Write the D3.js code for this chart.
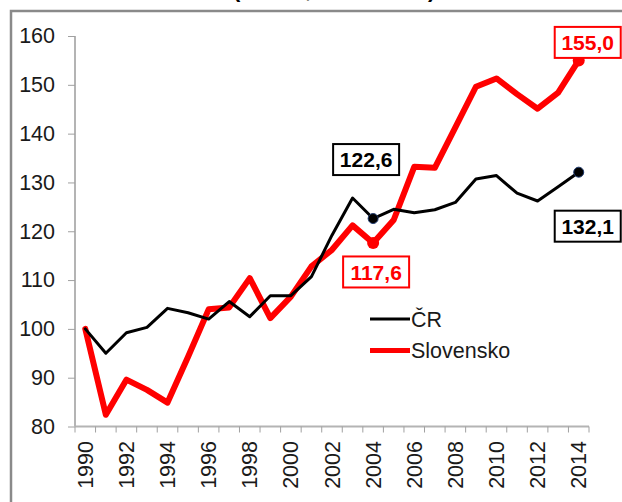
<!DOCTYPE html>
<html>
<head>
<meta charset="utf-8">
<script src="https://cdn.jsdelivr.net/npm/d3@7"></script>
<style>
  html, body { margin: 0; padding: 0; background: #fff; }
  svg { display: block; font-family: "Liberation Sans", Arial, sans-serif; }
</style>
</head>
<body>
<svg id="chart" width="622" height="502"></svg>
<script>
// Index of real development, 1990 = 100
const years = d3.range(1990, 2015);
const cr = [100.0, 95.0, 99.2, 100.3, 104.2, 103.3, 102.0, 105.6, 102.5, 106.8,
            106.8, 110.7, 119.2, 126.8, 122.6, 124.5, 123.8, 124.4, 125.9, 130.7,
            131.4, 127.8, 126.2, 129.1, 132.1];
const sk = [100.0, 82.4, 89.6, 87.5, 84.9, 94.3, 104.0, 104.4, 110.4, 102.2,
            106.6, 112.8, 116.2, 121.2, 117.6, 122.3, 133.2, 133.0, 141.3, 149.6,
            151.3, 148.1, 145.1, 148.4, 155.0];
const yTicks = [80, 90, 100, 110, 120, 130, 140, 150, 160];
const xLabelYears = years.filter(y => y % 2 === 0);
const seriesNames = ["ČR", "Slovensko"];
const titleText = "(reálně, 1990 = 100)";

const svg = d3.select("#chart");
const FONT = 21.5;
const BOLD_FONT = 21;

// outer frame of the chart object
svg.append("rect")
  .attr("x", 11).attr("y", 11)
  .attr("width", 700).attr("height", 600)
  .attr("fill", "none").attr("stroke", "#8a8a8a").attr("stroke-width", 2.5);

// title, sitting above the frame (only its lowest strokes fall inside the page)
svg.append("text")
  .attr("x", 233).attr("y", -3)
  .attr("font-size", 22).attr("font-weight", "bold").attr("fill", "#000")
  .text(titleText);

const x = d3.scaleBand().domain(years).range([75, 589]).padding(0);
const y = d3.scaleLinear().domain([80, 160]).range([426.5, 36]);
const cx = yr => x(yr) + x.bandwidth() / 2;

// y axis
const yAxis = svg.append("g")
  .attr("transform", "translate(75,0)")
  .call(d3.axisLeft(y).tickValues(yTicks).tickSize(7).tickPadding(13).tickFormat(d3.format("d")));
yAxis.select(".domain").attr("stroke", "#b4b4b4").attr("stroke-width", 2)
  .attr("d", `M0,${y(80)}V${y(160)}`);
yAxis.selectAll(".tick line").attr("stroke", "#a0a0a0").attr("stroke-width", 1);
yAxis.selectAll(".tick text")
  .attr("font-size", FONT).attr("font-family", "Liberation Sans, Arial, sans-serif")
  .attr("fill", "#1a1a1a");

// x axis: ticks between categories, labels every second year rotated
const xAxis = svg.append("g");
xAxis.append("line")
  .attr("x1", x.range()[0]).attr("x2", x.range()[1])
  .attr("y1", y(80)).attr("y2", y(80))
  .attr("stroke", "#b4b4b4").attr("stroke-width", 2);
const boundaries = years.map(yr => x(yr)).concat([x.range()[1]]);
xAxis.selectAll("line.tick")
  .data(boundaries).join("line").attr("class", "tick")
  .attr("x1", d => d).attr("x2", d => d)
  .attr("y1", y(80)).attr("y2", y(80) + 6)
  .attr("stroke", "#a0a0a0").attr("stroke-width", 1);
xAxis.selectAll("text")
  .data(xLabelYears).join("text")
  .attr("transform", d => `translate(${cx(d)},441) rotate(-90)`)
  .attr("text-anchor", "end").attr("dy", "0.35em")
  .attr("font-size", FONT).attr("fill", "#1a1a1a")
  .text(d => d);

// series lines
const line = d3.line().x((d, i) => cx(years[i])).y(d => y(d));
svg.append("path").datum(sk)
  .attr("d", line).attr("fill", "none")
  .attr("stroke", "#ff0000").attr("stroke-width", 6)
  .attr("stroke-linejoin", "round").attr("stroke-linecap", "round");
svg.append("path").datum(cr)
  .attr("d", line).attr("fill", "none")
  .attr("stroke", "#000").attr("stroke-width", 3)
  .attr("stroke-linejoin", "round").attr("stroke-linecap", "round");

// highlighted points
const idx2004 = years.indexOf(2004), idx2014 = years.indexOf(2014);
svg.selectAll("circle.cr")
  .data([idx2004, idx2014]).join("circle").attr("class", "cr")
  .attr("cx", i => cx(years[i])).attr("cy", i => y(cr[i])).attr("r", 5)
  .attr("fill", "#000").attr("stroke", "#1f3a6e").attr("stroke-width", 1);
svg.selectAll("circle.sk")
  .data([idx2004, idx2014]).join("circle").attr("class", "sk")
  .attr("cx", i => cx(years[i])).attr("cy", i => y(sk[i])).attr("r", 6)
  .attr("fill", "#ff0000");

// boxed value labels
const fmt = v => d3.format(".1f")(v).replace(".", ",");
const callouts = [
  { series: cr, i: idx2004, dx: -7, dy: -59, color: "#000" },
  { series: cr, i: idx2014, dx: 9, dy: 54, color: "#000" },
  { series: sk, i: idx2004, dx: 3, dy: 29, color: "#ff0000" },
  { series: sk, i: idx2014, dx: 9, dy: -18, color: "#ff0000" }
];
const boxW = 66, boxH = 31;
const cg = svg.selectAll("g.callout").data(callouts).join("g").attr("class", "callout")
  .attr("transform", d => `translate(${cx(years[d.i]) + d.dx},${y(d.series[d.i]) + d.dy})`);
cg.append("rect")
  .attr("x", -boxW / 2).attr("y", -boxH / 2).attr("width", boxW).attr("height", boxH)
  .attr("fill", "#fff").attr("stroke", d => d.color).attr("stroke-width", 2);
cg.append("text")
  .attr("text-anchor", "middle").attr("dy", "0.36em")
  .attr("font-size", BOLD_FONT).attr("font-weight", "bold").attr("fill", d => d.color)
  .text(d => fmt(d.series[d.i]));

// legend
const legend = [
  { name: seriesNames[0], color: "#000", w: 3, y: 319 },
  { name: seriesNames[1], color: "#ff0000", w: 5, y: 350.5 }
];
const lg = svg.selectAll("g.legend").data(legend).join("g").attr("class", "legend");
lg.append("line")
  .attr("x1", 370).attr("x2", 410).attr("y1", d => d.y).attr("y2", d => d.y)
  .attr("stroke", d => d.color).attr("stroke-width", d => d.w);
lg.append("text")
  .attr("x", 411).attr("y", d => d.y).attr("dy", "0.36em")
  .attr("font-size", FONT).attr("fill", "#1a1a1a")
  .text(d => d.name);
</script>
</body>
</html>
